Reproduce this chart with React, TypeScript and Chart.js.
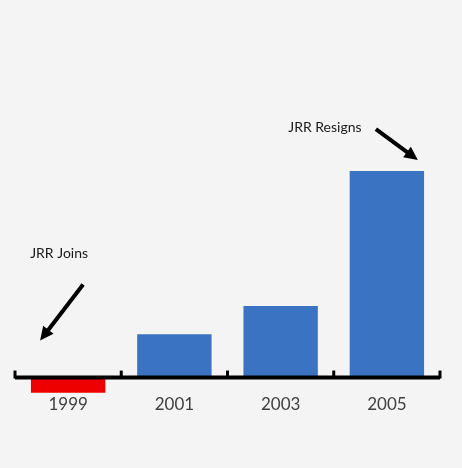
import { useEffect, useRef } from "react";
import Chart from "chart.js/auto";

const years = ["1999", "2001", "2003", "2005"];
const values = [-1.5, 4.3, 7.1, 20.5];
const barColors = ["#ee0000", "#3a73c2", "#3a73c2", "#3a73c2"];
const joinNote = "JRR Joins";
const resignNote = "JRR Resigns";

const drawArrow = (ctx: CanvasRenderingContext2D, x1: number, y1: number, x2: number, y2: number) => {
  const ang = Math.atan2(y2 - y1, x2 - x1);
  const head = 15;
  const bx = x2 - Math.cos(ang) * (head - 2);
  const by = y2 - Math.sin(ang) * (head - 2);
  ctx.lineWidth = 4;
  ctx.beginPath();
  ctx.moveTo(x1, y1);
  ctx.lineTo(bx, by);
  ctx.stroke();
  ctx.beginPath();
  ctx.moveTo(x2, y2);
  ctx.lineTo(x2 - head * Math.cos(ang - 0.45), y2 - head * Math.sin(ang - 0.45));
  ctx.lineTo(x2 - head * Math.cos(ang + 0.45), y2 - head * Math.sin(ang + 0.45));
  ctx.closePath();
  ctx.fill();
};

const axisPlugin = {
  id: "zeroAxis",
  afterDatasetsDraw(chart: any) {
    const { ctx, chartArea, scales } = chart;
    const x = scales.x;
    const y = scales.y;
    const y0 = y.getPixelForValue(0);
    ctx.save();
    ctx.strokeStyle = "#000";
    ctx.fillStyle = "#000";
    ctx.lineWidth = 4;
    ctx.beginPath();
    ctx.moveTo(chartArea.left, y0);
    ctx.lineTo(chartArea.right, y0);
    ctx.stroke();
    ctx.lineWidth = 3;
    for (let i = 0; i <= years.length; i++) {
      const px = x.getPixelForValue(i - 0.5);
      ctx.beginPath();
      ctx.moveTo(px, y0 - 7);
      ctx.lineTo(px, y0 + 1);
      ctx.stroke();
    }

    // annotations
    ctx.fillStyle = "#1a1a1a";
    ctx.strokeStyle = "#000";
    ctx.font = "14px Lato";
    ctx.textAlign = "center";
    ctx.textBaseline = "middle";

    const c0 = x.getPixelForValue(0);
    ctx.fillText(joinNote, c0 - 9, y0 - 124);
    ctx.fillStyle = "#000";
    drawArrow(ctx, c0 + 15, y0 - 93, c0 - 28, y0 - 37);

    const c3 = x.getPixelForValue(3);
    const top = y.getPixelForValue(values[3]);
    ctx.fillStyle = "#1a1a1a";
    ctx.fillText(resignNote, c3 - 62, top - 44);
    ctx.fillStyle = "#000";
    drawArrow(ctx, c3 - 11, top - 42, c3 + 31, top - 11);
    ctx.restore();
  },
};

const App = () => {
  const canvasRef = useRef<HTMLCanvasElement | null>(null);

  useEffect(() => {
    document.body.style.margin = "0";
    const ctx = canvasRef.current?.getContext("2d");
    if (!ctx) return;

    Chart.defaults.font.family = "Lato";

    const chart = new Chart(ctx, {
      type: "bar",
      data: {
        labels: years,
        datasets: [
          {
            data: values,
            backgroundColor: barColors,
            categoryPercentage: 0.7,
            barPercentage: 1.0,
            clip: false,
          },
        ],
      },
      options: {
        animation: false,
        responsive: true,
        maintainAspectRatio: false,
        layout: { padding: { top: 156, left: 15, right: 22, bottom: 50 } },
        plugins: {
          legend: { display: false },
          tooltip: { enabled: false },
        },
        scales: {
          x: {
            grid: { display: false },
            border: { display: false },
            ticks: { color: "#404040", font: { size: 17 }, padding: 3 },
          },
          y: {
            display: false,
            min: -0.6,
            max: 22,
          },
        },
      },
      plugins: [axisPlugin],
    });

    return () => {
      chart.destroy();
    };
  }, []);

  return (
    <div style={{ width: 462, height: 468, background: "#f4f4f4" }}>
      <canvas ref={canvasRef}></canvas>
    </div>
  );
};

export default App;
